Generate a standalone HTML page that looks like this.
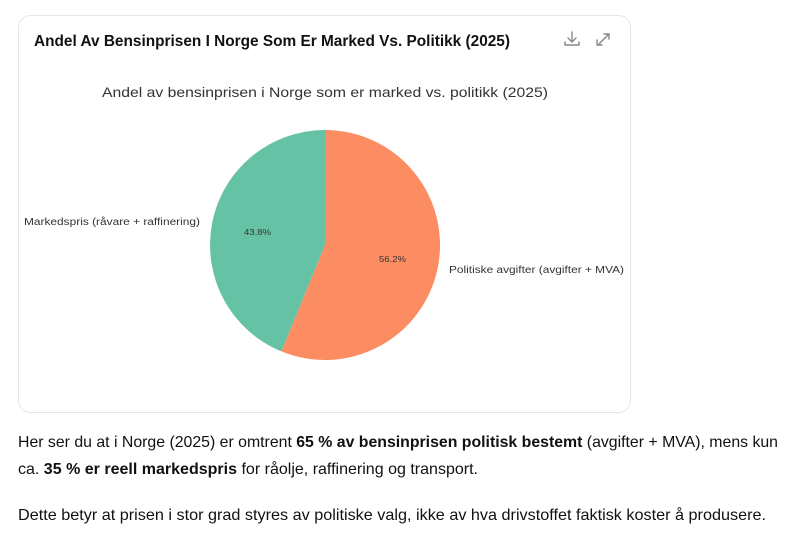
<!DOCTYPE html>
<html><head><meta charset="utf-8"><style>
html,body{margin:0;padding:0;background:#fff;}
svg{display:block;font-family:"Liberation Sans",sans-serif;}
</style></head><body>
<svg width="800" height="534" viewBox="0 0 800 534" xmlns="http://www.w3.org/2000/svg">
<rect x="18.5" y="15.5" width="612" height="397" rx="12" fill="#fff" stroke="#e6e6e6"/>
<text x="34" y="46" font-size="16" font-weight="bold" fill="#111" textLength="476" lengthAdjust="spacingAndGlyphs">Andel Av Bensinprisen I Norge Som Er Marked Vs. Politikk (2025)</text>
<g stroke="#888" stroke-width="1.4" fill="none" stroke-linecap="round">
<path d="M572 32v10M568 38l4 4 4-4M565 42v3h14v-3"/>
<path d="M599 44l10-10M604 34h5v5M597 40v5h5"/>
</g>
<text x="325" y="97" font-size="14" fill="#333" text-anchor="middle" textLength="446" lengthAdjust="spacingAndGlyphs">Andel av bensinprisen i Norge som er marked vs. politikk (2025)</text>
<path d="M325 245 L325 130 A115 115 0 1 1 281.4 351.4 Z" fill="#fc8d62"/>
<path d="M325 245 L281.4 351.4 A115 115 0 0 1 325 130 Z" fill="#66c2a5"/>
<text x="24" y="225" font-size="10" fill="#333" textLength="176" lengthAdjust="spacingAndGlyphs">Markedspris (råvare + raffinering)</text>
<text x="449" y="273" font-size="10" fill="#333" textLength="175" lengthAdjust="spacingAndGlyphs">Politiske avgifter (avgifter + MVA)</text>
<text x="244" y="235" font-size="8.5" fill="#333" textLength="27" lengthAdjust="spacingAndGlyphs">43.8%</text>
<text x="379" y="262" font-size="8.5" fill="#333" textLength="27" lengthAdjust="spacingAndGlyphs">56.2%</text>
<g font-size="16" fill="#111">
<text x="18" y="447" textLength="760" lengthAdjust="spacingAndGlyphs">Her ser du at i Norge (2025) er omtrent <tspan font-weight="bold">65 % av bensinprisen politisk bestemt</tspan> (avgifter + MVA), mens kun</text>
<text x="18" y="474" textLength="460" lengthAdjust="spacingAndGlyphs">ca. <tspan font-weight="bold">35 % er reell markedspris</tspan> for råolje, raffinering og transport.</text>
<text x="18" y="520" textLength="748" lengthAdjust="spacingAndGlyphs">Dette betyr at prisen i stor grad styres av politiske valg, ikke av hva drivstoffet faktisk koster å produsere.</text>
</g>
</svg>
</body></html>
